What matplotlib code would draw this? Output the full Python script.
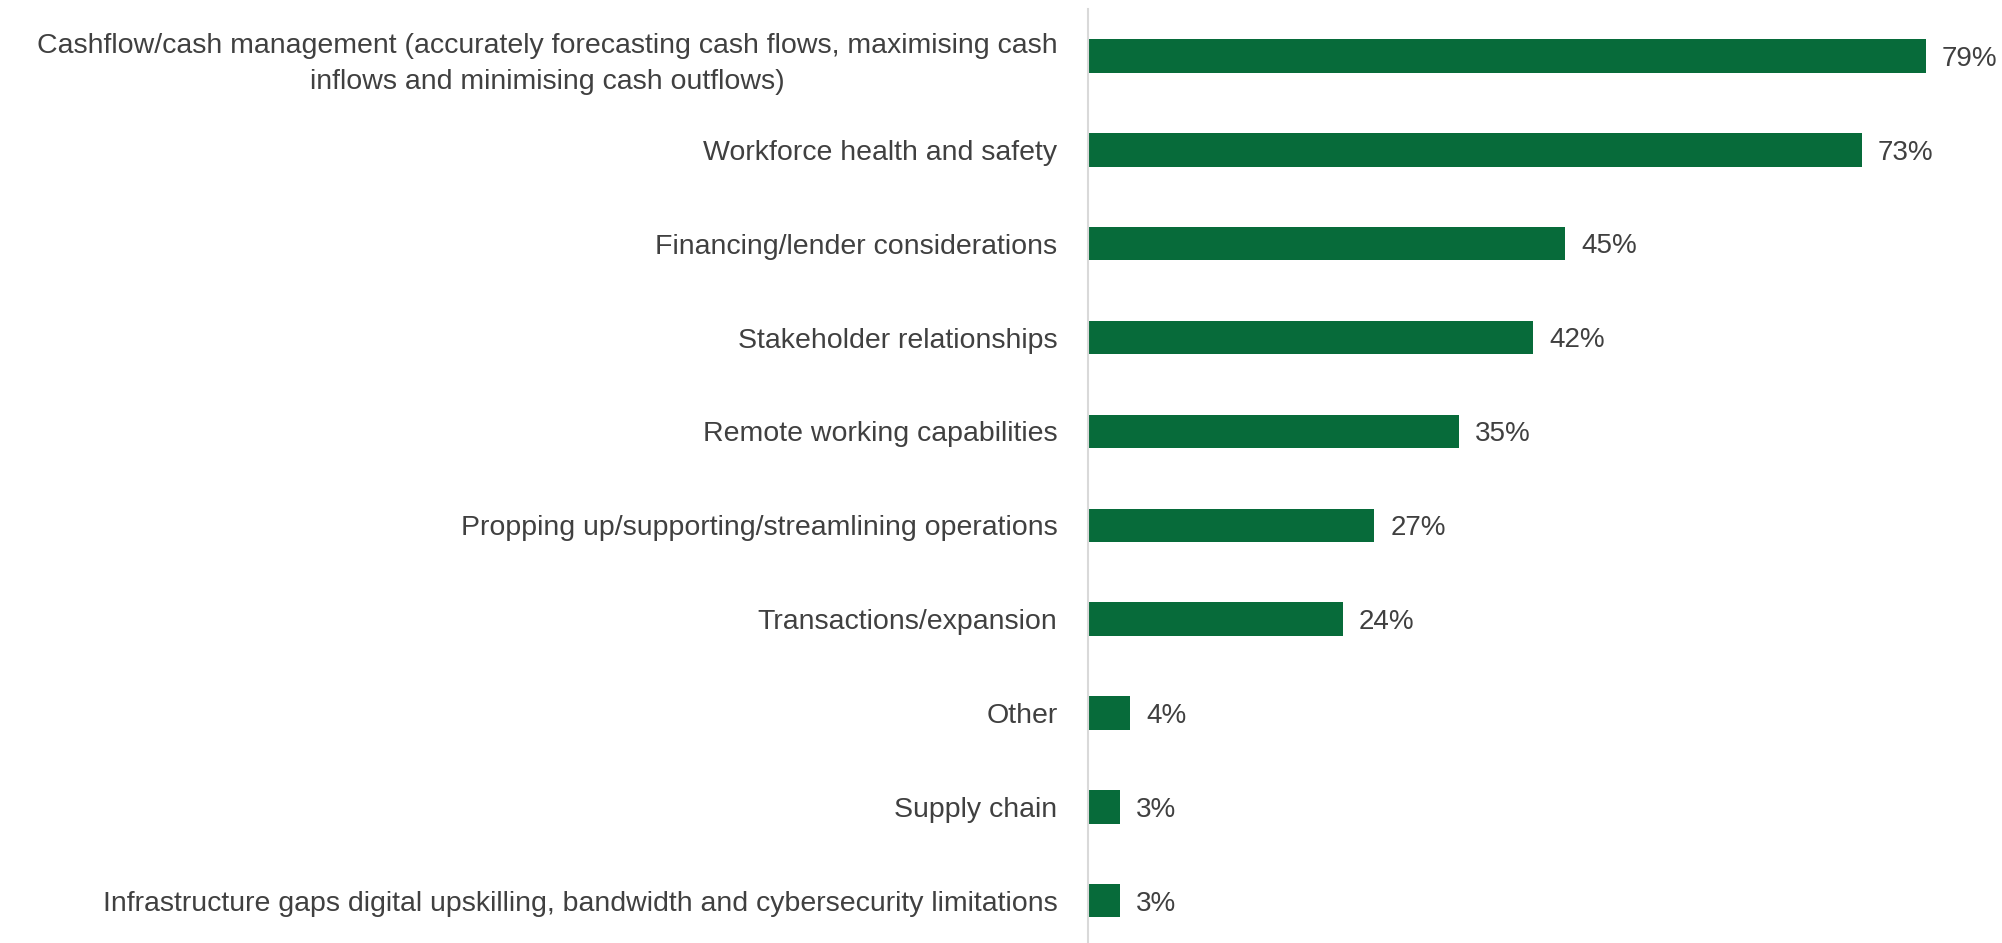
import matplotlib.pyplot as plt

categories = [
    'Cashflow/cash management (accurately forecasting cash flows, maximising cash\ninflows and minimising cash outflows)',
    'Workforce health and safety',
    'Financing/lender considerations',
    'Stakeholder relationships',
    'Remote working capabilities',
    'Propping up/supporting/streamlining operations',
    'Transactions/expansion',
    'Other',
    'Supply chain',
    'Infrastructure gaps digital upskilling, bandwidth and cybersecurity limitations',
]
values = [79, 73, 45, 42, 35, 27, 24, 4, 3, 3]
value_labels = ['79%', '73%', '45%', '42%', '35%', '27%', '24%', '4%', '3%', '3%']

plt.rcParams['font.family'] = ['Liberation Sans', 'DejaVu Sans']

bar_color = '#076B3A'
text_color = '#404040'

fig = plt.figure(figsize=(20.02, 9.43), dpi=100)
ax = fig.add_axes([0.5435, 0.0, 0.4565, 1 - 9 / 943])

ypos = list(range(len(values)))
ax.barh(ypos, values, height=0.356, color=bar_color)
for y, v, lab in zip(ypos, values, value_labels):
    ax.text(v + 1.5, y + 0.03, lab, va='center', ha='left', fontsize=20, color=text_color)

ax.set_ylim(9.45, -0.5)
ax.set_xlim(0, 86.2)
ax.set_yticks(ypos)
ax.set_yticklabels(categories, fontsize=20.5, color=text_color,
                   multialignment='center', linespacing=1.5)
ax.tick_params(axis='y', length=0, pad=22)
ax.set_xticks([])

for s in ['top', 'right', 'bottom']:
    ax.spines[s].set_visible(False)
ax.spines['left'].set_color('#D9D9D9')
ax.spines['left'].set_linewidth(1.5)

fig.savefig('out.png', dpi=100)
